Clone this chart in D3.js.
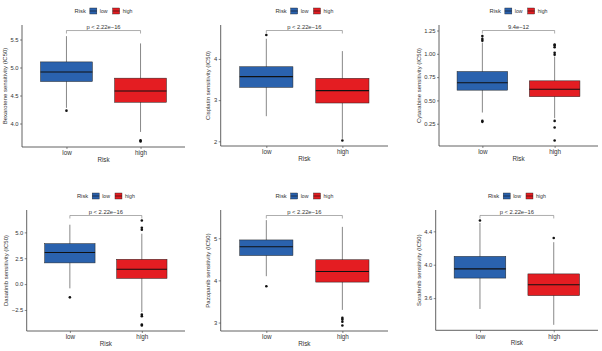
<!DOCTYPE html>
<html lang="en">
<head>
<meta charset="UTF-8">
<title>Drug sensitivity by risk</title>
<style>
  body { margin: 0; background: #fff; }
  svg { display: block; font-family: "Liberation Sans", Arial, sans-serif; }
</style>
<script src="https://d3js.org/d3.v7.min.js"></script>
</head>
<body>
<script>
// data
const drugs = ["Bexarotene", "Cisplatin", "Cytarabine", "Dasatinib", "Pazopanib", "Sorafenib"];
const groups = ["low", "high"];
const pLabels = ["p < 2.22e\u221216", "p < 2.22e\u221216", "9.4e\u221212", "p < 2.22e\u221216", "p < 2.22e\u221216", "p < 2.22e\u221216"];
// [lower whisker, q1, median, q3, upper whisker]
const lowStats = [
  [4.28, 4.75, 4.92, 5.10, 5.56],
  [2.61, 3.31, 3.57, 3.81, 4.49],
  [0.37, 0.61, 0.69, 0.81, 1.12],
  [-0.41, 2.05, 3.05, 3.91, 5.74],
  [4.10, 4.59, 4.80, 4.96, 5.43],
  [3.47, 3.84, 3.95, 4.10, 4.50]
];
const highStats = [
  [3.85, 4.38, 4.58, 4.81, 5.43],
  [2.06, 2.93, 3.23, 3.53, 4.19],
  [0.31, 0.54, 0.62, 0.71, 0.97],
  [-2.70, 0.55, 1.44, 2.40, 4.87],
  [3.30, 3.96, 4.21, 4.49, 5.27],
  [3.28, 3.63, 3.76, 3.89, 4.27]
];
const lowOutliers = [
  [4.23],
  [4.58],
  [1.14, 1.16, 1.19, 0.28, 0.27],
  [-1.28],
  [3.86],
  [4.53]
];
const highOutliers = [
  [3.70, 3.68],
  [2.02],
  [0.99, 1.01, 1.07, 1.09, 1.10, 0.28, 0.21, 0.07],
  [5.26, 5.45, 6.15, -2.95, -3.10, -3.90, -4.00],
  [3.11, 3.07, 3.02, 2.93],
  [4.32]
];
const bracketY = [5.66, 4.69, 1.25, 6.63, 5.54, 4.59];
const yTicks = [
  [4.0, 4.5, 5.0, 5.5],
  [2, 3, 4],
  [0.25, 0.50, 0.75, 1.00, 1.25],
  [-2.5, 0.0, 2.5, 5.0],
  [3, 4, 5],
  [3.6, 4.0, 4.4]
];
const tickFormats = [".1f", "d", ".2f", ".1f", "d", ".1f"];

// plot areas (left, right, top, bottom)
const panels = [
  [22, 185, 25, 147],
  [220.7, 388, 25, 146],
  [439, 598, 25, 146],
  [26.7, 185, 210, 331],
  [220.7, 388, 210, 331],
  [435.7, 598, 210, 330.3]
];

const colors = { low: "#2a62ae", high: "#e41d22" };
const axisColor = "#3a3a3a";
const textColor = "#333333";

const svg = d3.select("body").append("svg")
  .attr("width", 602)
  .attr("height", 351);

drugs.forEach(function(drug, i) {
  const [l, r, t, b] = panels[i];
  const g = svg.append("g");

  // y domain: all values plus 5% expansion, like ggplot
  const all = lowStats[i].concat(highStats[i], lowOutliers[i], highOutliers[i], [bracketY[i]]);
  const ext = d3.extent(all);
  const pad = (ext[1] - ext[0]) * 0.05;
  const y = d3.scaleLinear().domain([ext[0] - pad, ext[1] + pad]).range([b, t]);
  const x = d3.scalePoint().domain(groups).range([l, r]).padding(0.6);
  const boxW = x.step() * 0.7;

  // axes
  const yAxis = g.append("g")
    .attr("transform", "translate(" + l + ",0)")
    .call(d3.axisLeft(y).tickValues(yTicks[i]).tickFormat(d3.format(tickFormats[i])).tickSize(2).tickPadding(1.5));
  yAxis.select(".domain").attr("d", "M0," + t + "V" + b);

  const xAxis = g.append("g")
    .attr("transform", "translate(0," + b + ")")
    .call(d3.axisBottom(x).tickSize(2).tickPadding(2));
  xAxis.select(".domain").attr("d", "M" + l + ",0H" + r);

  g.selectAll(".domain").attr("stroke", axisColor).attr("stroke-width", 0.8);
  g.selectAll(".tick line").attr("stroke", axisColor).attr("stroke-width", 0.6);
  yAxis.selectAll(".tick text").attr("font-size", 5.8).attr("fill", textColor).attr("font-family", null);
  xAxis.selectAll(".tick text").attr("font-size", 6.3).attr("fill", textColor).attr("font-family", null);

  // axis titles
  let maxW = 0;
  yAxis.selectAll(".tick text").each(function() { maxW = Math.max(maxW, this.getComputedTextLength()); });
  g.append("text")
    .attr("transform", "translate(" + (l - 4 - maxW - 3) + "," + ((t + b) / 2) + ") rotate(-90)")
    .attr("text-anchor", "middle")
    .attr("font-size", 6)
    .attr("fill", textColor)
    .text(drug + " sensitivity (IC50)");

  g.append("text")
    .attr("x", (l + r) / 2)
    .attr("y", b + 15)
    .attr("text-anchor", "middle")
    .attr("font-size", 6.3)
    .attr("fill", textColor)
    .text("Risk");

  // boxes
  const stats = { low: lowStats[i], high: highStats[i] };
  const outs = { low: lowOutliers[i], high: highOutliers[i] };
  groups.forEach(function(grp) {
    const s = stats[grp];
    const cx = x(grp);
    g.append("line")
      .attr("x1", cx).attr("x2", cx)
      .attr("y1", y(s[0])).attr("y2", y(s[4]))
      .attr("stroke", "#555").attr("stroke-width", 0.7);
    g.append("rect")
      .attr("x", cx - boxW / 2)
      .attr("y", y(s[3]))
      .attr("width", boxW)
      .attr("height", y(s[1]) - y(s[3]))
      .attr("fill", colors[grp])
      .attr("stroke", "#222")
      .attr("stroke-width", 0.5);
    g.append("line")
      .attr("x1", cx - boxW / 2).attr("x2", cx + boxW / 2)
      .attr("y1", y(s[2])).attr("y2", y(s[2]))
      .attr("stroke", "#111").attr("stroke-width", 1.1);
    g.selectAll(null)
      .data(outs[grp])
      .join("circle")
      .attr("cx", cx)
      .attr("cy", function(d) { return y(d); })
      .attr("r", 1.3)
      .attr("fill", "#111");
  });

  // comparison bracket
  const by = y(bracketY[i]);
  g.append("path")
    .attr("d", "M" + x("low") + "," + (by + 3) + "V" + by + "H" + x("high") + "V" + (by + 3))
    .attr("fill", "none")
    .attr("stroke", "#777")
    .attr("stroke-width", 0.6);
  g.append("text")
    .attr("x", (x("low") + x("high")) / 2)
    .attr("y", by - 1.5)
    .attr("text-anchor", "middle")
    .attr("font-size", 5.8)
    .attr("fill", textColor)
    .text(pLabels[i]);

  // legend on top
  const lg = g.append("g");
  const ly = t - 14;
  const title = lg.append("text").attr("x", 0).attr("y", ly + 2).attr("font-size", 5.8).attr("fill", textColor).text("Risk");
  let cursor = title.node().getComputedTextLength() + 4;
  groups.forEach(function(grp) {
    lg.append("rect")
      .attr("x", cursor).attr("y", ly - 3)
      .attr("width", 7).attr("height", 6)
      .attr("fill", colors[grp])
      .attr("stroke", "#222").attr("stroke-width", 0.4);
    lg.append("line")
      .attr("x1", cursor).attr("x2", cursor + 7)
      .attr("y1", ly).attr("y2", ly)
      .attr("stroke", "#111").attr("stroke-width", 0.6);
    cursor += 10;
    const tx = lg.append("text").attr("x", cursor).attr("y", ly + 2).attr("font-size", 5.2).attr("fill", textColor).text(grp);
    cursor += tx.node().getComputedTextLength() + 5;
  });
  cursor -= 5;
  lg.attr("transform", "translate(" + ((l + r) / 2 - cursor / 2) + ",0)");
});
</script>
</body>
</html>
